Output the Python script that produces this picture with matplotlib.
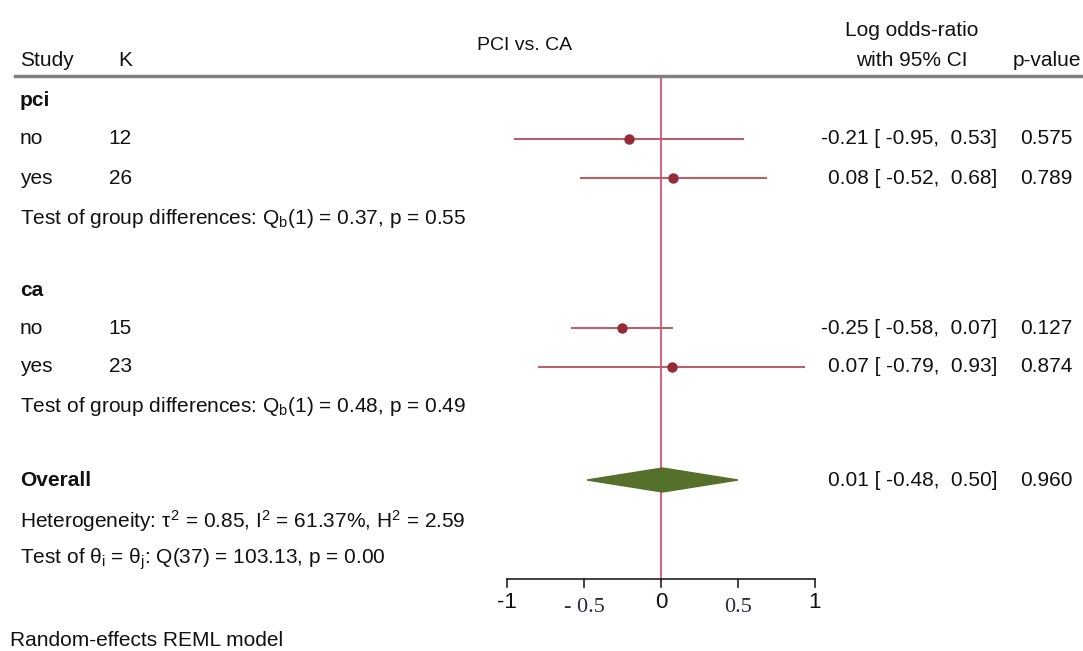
import matplotlib
matplotlib.use('Agg')
import matplotlib.pyplot as plt
import matplotlib.transforms as mtransforms
from matplotlib.patches import Polygon

plt.rcParams['font.family'] = ['Liberation Sans', 'DejaVu Sans']
plt.rcParams['mathtext.fontset'] = 'custom'
plt.rcParams['mathtext.rm'] = 'Liberation Sans'
plt.rcParams['mathtext.it'] = 'Liberation Sans'

# data
groups = ['pci', 'ca']
labels = ['no', 'yes', 'no', 'yes']
k_vals = [12, 26, 15, 23]
est = [-0.21, 0.08, -0.25, 0.07]
lo = [-0.95, -0.52, -0.58, -0.79]
hi = [0.53, 0.68, 0.07, 0.93]
pvals = ['0.575', '0.789', '0.127', '0.874']
group_tests = ['Q$_\\mathrm{b}$(1) = 0.37, p = 0.55',
               'Q$_\\mathrm{b}$(1) = 0.48, p = 0.49']
overall_est = 0.01
overall_lo = -0.48
overall_hi = 0.50
overall_p = '0.960'
het_text = 'Heterogeneity: $\\tau^2$ = 0.85, I$^2$ = 61.37%, H$^2$ = 2.59'
theta_text = 'Test of $\\theta_\\mathrm{i}$ = $\\theta_\\mathrm{j}$: Q(37) = 103.13, p = 0.00'
xticks = [-1, -0.5, 0, 0.5, 1]
xtick_labels = ['-1', '- 0.5', '0', '0.5', '1']

W, H = 1083, 651
fig = plt.figure(figsize=(W / 100, H / 100), dpi=100)
ax = fig.add_axes([0, 0, 1, 1])
# x: log odds scale, 154 px per unit, zero at 661 px
ax.set_xlim(-661 / 154, (W - 661) / 154)
ax.set_ylim(H, 0)
ax.axis('off')

tr = mtransforms.blended_transform_factory(fig.transFigure, ax.transData)
fs = 15


def txt(xpx, ypx, s, ha='left', **kw):
    ax.text(xpx / W, ypx, s, transform=tr, ha=ha, va='center',
            fontsize=kw.pop('size', fs), color=kw.pop('color', '#111111'), **kw)


# header
txt(20, 61, 'Study')
txt(132, 61, 'K', ha='right')
txt(525, 45, 'PCI vs. CA', ha='center', size=14)
txt(912, 30, 'Log odds-ratio', ha='center')
txt(912, 61, 'with 95% CI', ha='center')
txt(1013, 61, 'p-value')
ax.plot([15 / W, 1], [76, 76], transform=tr, color='#808080', lw=2.5)

# rows
group_y = [101, 291]
row_y = [139, 178, 328, 367]
test_y = [218, 407]
for g, gy in zip(groups, group_y):
    txt(20, gy, g, fontweight='bold')
for i, y in enumerate(row_y):
    txt(20, y, labels[i])
    txt(132, y, str(k_vals[i]), ha='right')
    ax.plot([lo[i], hi[i]], [y, y], color='#b8606a', lw=1.5, zorder=2)
    ax.plot(est[i], y, 'o', color='#962a36', ms=6.5, zorder=3)
    txt(997, y, '%.2f [ %.2f,  %.2f]' % (est[i], lo[i], hi[i]), ha='right')
    txt(1020, y, pvals[i])
for t, y in zip(group_tests, test_y):
    txt(20, y, 'Test of group differences: ' + t)

# overall
oy = 480
txt(20, oy, 'Overall', fontweight='bold')
dia = Polygon([[overall_lo, oy], [overall_est, oy - 12],
               [overall_hi, oy], [overall_est, oy + 12]],
              closed=True, facecolor='#55702a', edgecolor='#55702a', zorder=3)
ax.add_patch(dia)
txt(997, oy, '%.2f [ %.2f,  %.2f]' % (overall_est, overall_lo, overall_hi), ha='right')
txt(1020, oy, overall_p)
txt(20, 521, het_text)
txt(20, 559, theta_text)

# no-effect line
ax.plot([0, 0], [76, 580], color='#e0506e', lw=1.3, zorder=1)

# x axis
axis_y = 579
ax.plot([xticks[0], xticks[-1]], [axis_y, axis_y], color='#222222', lw=1.2)
for xt, lab in zip(xticks, xtick_labels):
    ax.plot([xt, xt], [axis_y, axis_y + 8], color='#222222', lw=1.2)
    if '.' in lab:
        ax.text(xt, 607, lab, ha='center', va='center', fontsize=16,
                family='Liberation Serif', color='#2a2a40')
    else:
        ax.text(xt, 603, lab, ha='center', va='center', fontsize=16, color='#111111')

txt(10, 640, 'Random-effects REML model')

fig.savefig('out.png', dpi=100)
